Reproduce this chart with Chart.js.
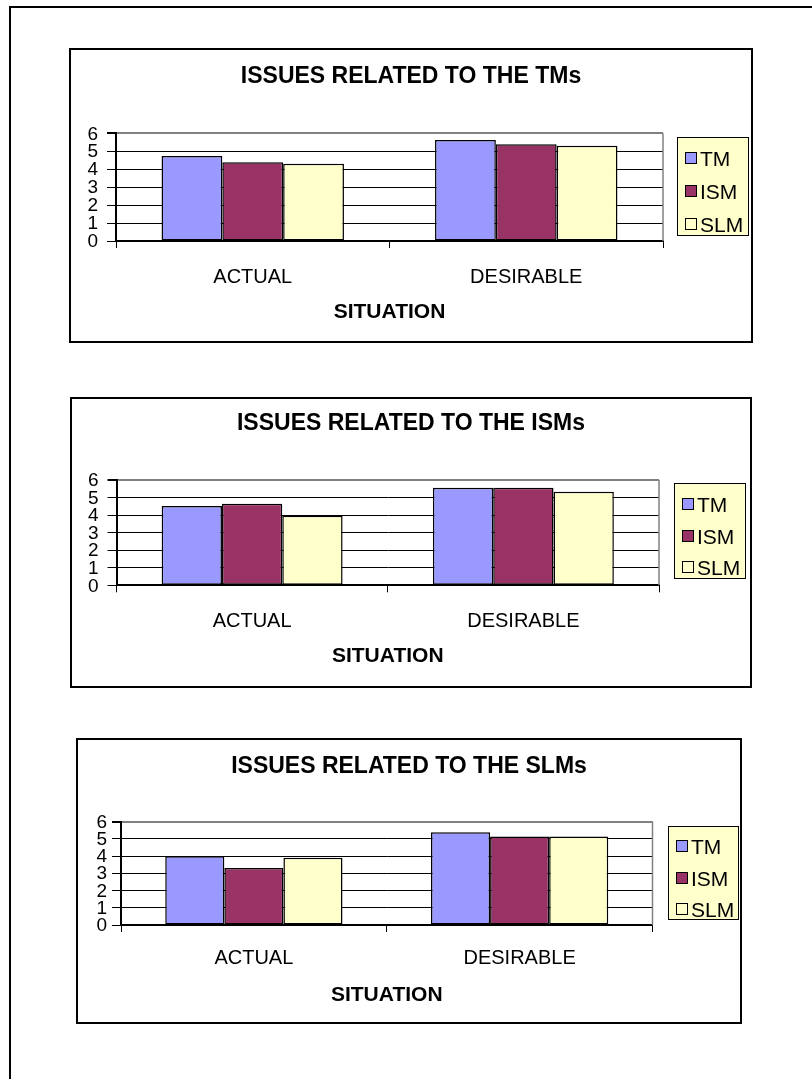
<!DOCTYPE html>
<html>
<head>
<meta charset="utf-8">
<title>Issues related to the TMs, ISMs and SLMs</title>
<script src="https://cdn.jsdelivr.net/npm/chart.js@4.4.0/dist/chart.umd.min.js"></script>
<style>
    html, body { margin: 0; padding: 0; background: #fff; overflow: hidden; }
    body { width: 812px; height: 1079px; position: relative; font-family: "Liberation Sans", Arial, sans-serif; }
    #page { position: absolute; left: 9px; top: 6px; width: 860px; height: 1120px; border: 2px solid #000; }
    .box { position: absolute; border: 2px solid #000; background: #fff; }
    .box canvas { position: absolute; left: 0; top: 0; }
    .legend { position: absolute; background: #FFFFCC; border: 1.5px solid #000; box-sizing: border-box; }
    .legend .swatch { position: absolute; left: 7px; width: 10px; height: 10px; border: 1.5px solid #000; box-sizing: content-box; }
    .legend .label { position: absolute; left: 22px; font-size: 21px; line-height: 24px; height: 24px; color: #000; white-space: nowrap; }
</style>
</head>
<body>
<div id="page"></div>
<div id="charts"></div>

<script>
// categories and series
const situations = ['ACTUAL', 'DESIRABLE'];
const seriesNames = ['TM', 'ISM', 'SLM'];
const yTicks = [0, 1, 2, 3, 4, 5, 6];

// issues related to the TMs
const tmIssuesTM = [4.74, 5.63];
const tmIssuesISM = [4.39, 5.39];
const tmIssuesSLM = [4.30, 5.30];

// issues related to the ISMs
const ismIssuesTM = [4.52, 5.56];
const ismIssuesISM = [4.65, 5.56];
const ismIssuesSLM = [3.97, 5.33];

// issues related to the SLMs
const slmIssuesTM = [3.98, 5.38];
const slmIssuesISM = [3.31, 5.13];
const slmIssuesSLM = [3.90, 5.13];

const FONT = '"Liberation Sans", Arial, sans-serif';
const seriesColors = ['#9999FF', '#993366', '#FFFFCC'];

// box placement and inner spacing for each chart
const panels = [
    {
        title: 'ISSUES RELATED TO THE TMs',
        values: [tmIssuesTM, tmIssuesISM, tmIssuesSLM],
        box: { left: 69, top: 48, width: 684, height: 295 },
        yWidth: 45, rightWidth: 88, yTickPad: 9,
        titleTop: 13, titleBottom: 42.7,
        xHeight: 100, xTickPad: 17, xTitleBottom: 15.9,
        legend: { left: 606, top: 87, width: 72, height: 99 }
    },
    {
        title: 'ISSUES RELATED TO THE ISMs',
        values: [ismIssuesTM, ismIssuesISM, ismIssuesSLM],
        box: { left: 70, top: 397, width: 682, height: 291 },
        yWidth: 44.5, rightWidth: 91, yTickPad: 9,
        titleTop: 10.9, titleBottom: 42.5,
        xHeight: 100.7, xTickPad: 16.7, xTitleBottom: 16.7,
        legend: { left: 602, top: 84, width: 72, height: 96 }
    },
    {
        title: 'ISSUES RELATED TO THE SLMs',
        values: [slmIssuesTM, slmIssuesISM, slmIssuesSLM],
        box: { left: 76, top: 738, width: 666, height: 286 },
        yWidth: 43, rightWidth: 87.5, yTickPad: 5,
        titleTop: 13.2, titleBottom: 40.7,
        xHeight: 97, xTickPad: 14.3, xTitleBottom: 14.4,
        legend: { left: 590, top: 86, width: 71, height: 94 }
    }
];

// grey right edge of the plot area
const plotEdge = {
    id: 'plotEdge',
    beforeDatasetsDraw(chart) {
        const { ctx, chartArea: a } = chart;
        ctx.save();
        ctx.strokeStyle = '#808080';
        ctx.lineWidth = 1.5;
        ctx.beginPath();
        ctx.moveTo(a.right, a.top);
        ctx.lineTo(a.right, a.bottom);
        ctx.stroke();
        ctx.restore();
    }
};

function buildLegend(box, spec) {
    const lg = document.createElement('div');
    lg.className = 'legend';
    lg.style.left = spec.left + 'px';
    lg.style.top = spec.top + 'px';
    lg.style.width = spec.width + 'px';
    lg.style.height = spec.height + 'px';
    const centers = [0.215, 0.55, 0.88];
    seriesNames.forEach((name, i) => {
        const cy = spec.height * centers[i];
        const sw = document.createElement('div');
        sw.className = 'swatch';
        sw.style.top = (cy - 7) + 'px';
        sw.style.background = seriesColors[i];
        const lb = document.createElement('div');
        lb.className = 'label';
        lb.style.top = (cy - 12) + 'px';
        lb.textContent = name;
        lg.appendChild(sw);
        lg.appendChild(lb);
    });
    box.appendChild(lg);
}

function buildPanel(p) {
    const box = document.createElement('div');
    box.className = 'box';
    box.style.left = p.box.left + 'px';
    box.style.top = p.box.top + 'px';
    box.style.width = (p.box.width - 4) + 'px';
    box.style.height = (p.box.height - 4) + 'px';
    const canvas = document.createElement('canvas');
    canvas.width = p.box.width - 4;
    canvas.height = p.box.height - 4;
    box.appendChild(canvas);
    document.getElementById('charts').appendChild(box);
    buildLegend(box, p.legend);

    new Chart(canvas.getContext('2d'), {
        type: 'bar',
        data: {
            labels: situations,
            datasets: seriesNames.map((name, i) => ({
                label: name,
                data: p.values[i],
                yAxisID: 'y',
                backgroundColor: seriesColors[i],
                borderColor: '#000',
                borderWidth: 1.5,
                borderSkipped: false,
                categoryPercentage: 0.667,
                barPercentage: 1.0
            }))
        },
        options: {
            responsive: false,
            animation: false,
            devicePixelRatio: 1,
            layout: { padding: 0 },
            plugins: {
                legend: { display: false },
                tooltip: { enabled: false },
                title: {
                    display: true,
                    text: p.title,
                    color: '#000',
                    font: { family: FONT, size: 23, weight: 'bold', lineHeight: 1.2 },
                    padding: { top: p.titleTop, bottom: p.titleBottom }
                }
            },
            scales: {
                x: {
                    afterFit: (scale) => { scale.height = p.xHeight; },
                    grid: { offset: true, drawOnChartArea: false, drawTicks: true, tickLength: 7, color: '#000', lineWidth: 1 },
                    border: { display: true, color: '#000', width: 2 },
                    ticks: { color: '#000', font: { family: FONT, size: 20, lineHeight: 1.2 }, padding: p.xTickPad, maxRotation: 0 },
                    title: {
                        display: true,
                        text: 'SITUATION',
                        color: '#000',
                        font: { family: FONT, size: 21, weight: 'bold', lineHeight: 1.2 },
                        padding: { top: 0, bottom: p.xTitleBottom }
                    }
                },
                y: {
                    min: yTicks[0],
                    max: yTicks[yTicks.length - 1],
                    afterFit: (scale) => { scale.width = p.yWidth; },
                    grid: {
                        color: (c) => (c.tick && c.tick.value === 6 ? '#808080' : '#000'),
                        lineWidth: (c) => (c.tick && c.tick.value === 6 ? 2 : 1),
                        tickColor: '#000',
                        tickLength: 9,
                        drawTicks: true
                    },
                    border: { display: true, color: '#000', width: 2 },
                    ticks: { color: '#000', font: { family: FONT, size: 19, lineHeight: 1 }, padding: p.yTickPad, stepSize: 1, autoSkip: false, labelOffset: 1 }
                },
                // empty strip on the right that holds the legend
                legendSpace: {
                    axis: 'y',
                    position: 'right',
                    afterFit: (scale) => { scale.width = p.rightWidth; },
                    grid: { display: false, drawTicks: false },
                    border: { display: false },
                    ticks: { display: false }
                }
            }
        },
        plugins: [plotEdge]
    });
}

panels.forEach(buildPanel);
</script>
</body>
</html>
